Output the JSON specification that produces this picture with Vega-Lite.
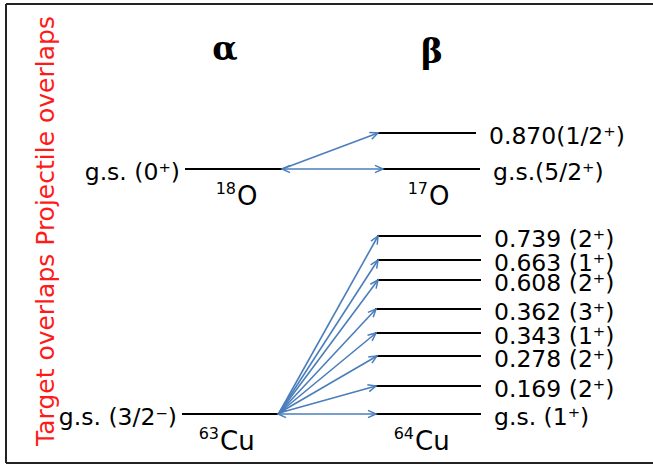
{
  "$schema": "https://vega.github.io/schema/vega-lite/v6.json",
  "width": 653,
  "height": 467,
  "padding": 0,
  "autosize": {"type": "none"},
  "background": "white",
  "config": {"view": {"stroke": null}},
  "datasets": {
    "frame": [
      {"x1": 6, "y1": 4, "x2": 653, "y2": 4},
      {"x1": 6, "y1": 4, "x2": 6, "y2": 463},
      {"x1": 6, "y1": 463, "x2": 653, "y2": 463}
    ],
    "levels": [
      {"nuc": "18O", "x1": 185, "x2": 283, "y": 169, "label": "g.s. (0⁺)", "side": "L"},
      {"nuc": "17O", "x1": 378, "x2": 476, "y": 133, "label": "0.870(1/2⁺)", "side": "R"},
      {"nuc": "17O", "x1": 383, "x2": 480, "y": 169, "label": "g.s.(5/2⁺)", "side": "R"},
      {"nuc": "63Cu", "x1": 182, "x2": 278, "y": 414, "label": "g.s. (3/2⁻)", "side": "L"},
      {"nuc": "64Cu", "x1": 377, "x2": 481, "y": 236, "label": "0.739 (2⁺)", "side": "R"},
      {"nuc": "64Cu", "x1": 377, "x2": 481, "y": 260, "label": "0.663 (1⁺)", "side": "R"},
      {"nuc": "64Cu", "x1": 377, "x2": 481, "y": 280, "label": "0.608 (2⁺)", "side": "R"},
      {"nuc": "64Cu", "x1": 375, "x2": 481, "y": 309, "label": "0.362 (3⁺)", "side": "R"},
      {"nuc": "64Cu", "x1": 375, "x2": 481, "y": 333, "label": "0.343 (1⁺)", "side": "R"},
      {"nuc": "64Cu", "x1": 376, "x2": 481, "y": 356, "label": "0.278 (2⁺)", "side": "R"},
      {"nuc": "64Cu", "x1": 375, "x2": 481, "y": 386, "label": "0.169 (2⁺)", "side": "R"},
      {"nuc": "64Cu", "x1": 375, "x2": 481, "y": 414, "label": "g.s. (1⁺)", "side": "R"}
    ],
    "arrows": [
      {"x1": 282, "y1": 169, "x2": 378, "y2": 133, "both": false},
      {"x1": 282, "y1": 169, "x2": 383, "y2": 169, "both": true},
      {"x1": 279, "y1": 413, "x2": 378, "y2": 236, "both": false},
      {"x1": 279, "y1": 413, "x2": 378, "y2": 260, "both": false},
      {"x1": 279, "y1": 413, "x2": 378, "y2": 280, "both": false},
      {"x1": 279, "y1": 413, "x2": 376, "y2": 309, "both": false},
      {"x1": 279, "y1": 413, "x2": 376, "y2": 333, "both": false},
      {"x1": 279, "y1": 413, "x2": 377, "y2": 356, "both": false},
      {"x1": 279, "y1": 413, "x2": 376, "y2": 386, "both": false},
      {"x1": 278, "y1": 414, "x2": 376, "y2": 414, "both": true}
    ],
    "isotopes": [
      {"mass": "18", "sym": "O", "x": 237, "y": 197},
      {"mass": "17", "sym": "O", "x": 429, "y": 197},
      {"mass": "63", "sym": "Cu", "x": 220, "y": 442},
      {"mass": "64", "sym": "Cu", "x": 415, "y": 442}
    ],
    "texts": [
      {"t": "α", "x": 225, "y": 50, "k": "head"},
      {"t": "β", "x": 432, "y": 53, "k": "head"},
      {"t": "Target overlaps Projectile overlaps", "x": 46, "y": 231, "k": "side"}
    ]
  },
  "layer": [
    {
      "data": {"name": "frame"},
      "mark": {"type": "rule", "color": "#222222", "strokeWidth": 2},
      "encoding": {
        "x": {"field": "x1", "type": "quantitative", "scale": {"domain": [0, 653], "nice": false, "zero": false}, "axis": null},
        "y": {"field": "y1", "type": "quantitative", "scale": {"domain": [0, 467], "nice": false, "zero": false, "reverse": true}, "axis": null},
        "x2": {"field": "x2"},
        "y2": {"field": "y2"}
      }
    },
    {
      "data": {"name": "levels"},
      "mark": {"type": "rule", "color": "black", "strokeWidth": 2},
      "encoding": {
        "x": {"field": "x1", "type": "quantitative"},
        "x2": {"field": "x2"},
        "y": {"field": "y", "type": "quantitative"}
      }
    },
    {
      "data": {"name": "arrows"},
      "mark": {"type": "rule", "color": "#4a7ebb", "strokeWidth": 1.6},
      "encoding": {
        "x": {"field": "x1", "type": "quantitative"},
        "x2": {"field": "x2"},
        "y": {"field": "y1", "type": "quantitative"},
        "y2": {"field": "y2"}
      }
    },
    {
      "data": {"name": "arrows"},
      "transform": [{"calculate": "atan2(datum.y2 - datum.y1, datum.x2 - datum.x1) * 180 / PI", "as": "ang"}],
      "mark": {"type": "point", "shape": "M-1,-0.45L0,0L-1,0.45", "filled": false, "stroke": "#4a7ebb", "strokeWidth": 1.5, "size": 256, "opacity": 1},
      "encoding": {
        "x": {"field": "x2", "type": "quantitative"},
        "y": {"field": "y2", "type": "quantitative"},
        "angle": {"field": "ang", "type": "quantitative", "scale": null}
      }
    },
    {
      "data": {"name": "arrows"},
      "transform": [
        {"filter": "datum.both"},
        {"calculate": "atan2(datum.y1 - datum.y2, datum.x1 - datum.x2) * 180 / PI", "as": "ang"}
      ],
      "mark": {"type": "point", "shape": "M-1,-0.45L0,0L-1,0.45", "filled": false, "stroke": "#4a7ebb", "strokeWidth": 1.5, "size": 256, "opacity": 1},
      "encoding": {
        "x": {"field": "x1", "type": "quantitative"},
        "y": {"field": "y1", "type": "quantitative"},
        "angle": {"field": "ang", "type": "quantitative", "scale": null}
      }
    },
    {
      "data": {"name": "levels"},
      "transform": [{"filter": "datum.side == 'R'"}],
      "mark": {"type": "text", "align": "left", "baseline": "middle", "dx": 13, "dy": 4, "font": "DejaVu Sans", "fontSize": 23.5, "color": "black"},
      "encoding": {
        "x": {"field": "x2", "type": "quantitative"},
        "y": {"field": "y", "type": "quantitative"},
        "text": {"field": "label"}
      }
    },
    {
      "data": {"name": "levels"},
      "transform": [{"filter": "datum.side == 'L'"}],
      "mark": {"type": "text", "align": "right", "baseline": "middle", "dx": -5, "dy": 4, "font": "DejaVu Sans", "fontSize": 23.5, "color": "black"},
      "encoding": {
        "x": {"field": "x1", "type": "quantitative"},
        "y": {"field": "y", "type": "quantitative"},
        "text": {"field": "label"}
      }
    },
    {
      "data": {"name": "texts"},
      "transform": [{"filter": "datum.k == 'head'"}],
      "mark": {"type": "text", "align": "center", "baseline": "middle", "font": "DejaVu Serif", "fontWeight": "bold", "fontSize": 33, "color": "black"},
      "encoding": {
        "x": {"field": "x", "type": "quantitative"},
        "y": {"field": "y", "type": "quantitative"},
        "text": {"field": "t"}
      }
    },
    {
      "data": {"name": "isotopes"},
      "mark": {"type": "text", "align": "left", "baseline": "middle", "font": "DejaVu Sans", "fontSize": 26, "color": "black"},
      "encoding": {
        "x": {"field": "x", "type": "quantitative"},
        "y": {"field": "y", "type": "quantitative"},
        "text": {"field": "sym"}
      }
    },
    {
      "data": {"name": "isotopes"},
      "mark": {"type": "text", "align": "right", "baseline": "middle", "dy": -8, "dx": -1, "font": "DejaVu Sans", "fontSize": 16, "color": "black"},
      "encoding": {
        "x": {"field": "x", "type": "quantitative"},
        "y": {"field": "y", "type": "quantitative"},
        "text": {"field": "mass"}
      }
    },
    {
      "data": {"name": "texts"},
      "transform": [{"filter": "datum.k == 'side'"}],
      "mark": {"type": "text", "align": "center", "baseline": "middle", "angle": 270, "font": "DejaVu Sans", "fontSize": 25, "color": "#ff1a1a"},
      "encoding": {
        "x": {"field": "x", "type": "quantitative"},
        "y": {"field": "y", "type": "quantitative"},
        "text": {"field": "t"}
      }
    }
  ]
}
